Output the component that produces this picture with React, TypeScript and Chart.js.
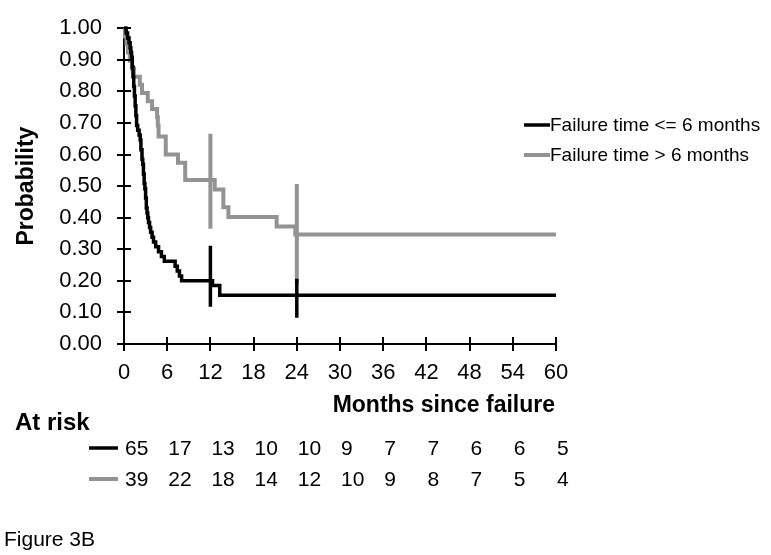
import React, { useEffect, useRef } from 'react';
import { Chart, registerables } from 'chart.js';

Chart.register(...registerables);

const FONT = '"Liberation Sans", Arial, Helvetica, sans-serif';

// Failure time <= 6 months (Kaplan-Meier steps)
const shortTimes = [0, 0.3, 0.5, 0.7, 0.85, 0.95, 1.05, 1.15, 1.25, 1.35, 1.45, 1.55, 1.65, 1.75, 1.9, 2.1, 2.25, 2.35, 2.5, 2.6, 2.7, 2.8, 2.9, 3.0, 3.1, 3.2, 3.3, 3.4, 3.55, 3.7, 3.9, 4.1, 4.4, 4.8, 5.2, 5.6, 7.1, 7.4, 7.7, 8.0, 12.3, 13.3, 60];
const shortSurv = [1.0, 0.985, 0.969, 0.954, 0.938, 0.923, 0.908, 0.877, 0.846, 0.815, 0.785, 0.754, 0.723, 0.692, 0.677, 0.662, 0.646, 0.615, 0.585, 0.569, 0.538, 0.508, 0.492, 0.462, 0.431, 0.415, 0.4, 0.385, 0.369, 0.354, 0.338, 0.323, 0.308, 0.292, 0.277, 0.262, 0.246, 0.231, 0.215, 0.2, 0.185, 0.154, 0.154];

// Failure time > 6 months
const longTimes = [0, 0.15, 0.35, 0.55, 0.8, 1.1, 1.4, 2.2, 2.5, 3.3, 3.9, 4.6, 4.7, 4.8, 5.8, 7.5, 8.5, 12.6, 13.8, 14.5, 21.2, 23.8, 60];
const longSurv = [1.0, 0.974, 0.949, 0.923, 0.897, 0.872, 0.846, 0.821, 0.795, 0.769, 0.744, 0.718, 0.692, 0.657, 0.6, 0.574, 0.519, 0.489, 0.433, 0.402, 0.372, 0.347, 0.347];

// censoring marks
const censorTimes = [12, 24];
const shortCensorTop = [0.311, 0.207];
const shortCensorBottom = [0.118, 0.083];
const longCensorTop = [0.666, 0.507];
const longCensorBottom = [0.365, 0.19];

const xTicks = [0, 6, 12, 18, 24, 30, 36, 42, 48, 54, 60];
const riskShort = [65, 17, 13, 10, 10, 9, 7, 7, 6, 6, 5];
const riskLong = [39, 22, 18, 14, 12, 10, 9, 8, 7, 5, 4];

const seriesLabels = ['Failure time <= 6 months', 'Failure time > 6 months'];
const seriesColors = ['#000000', '#939393'];

const pts = (xs: number[], ys: number[]) => xs.map((x, i) => ({ x, y: ys[i] }));

export default function App() {
  const ref = useRef<HTMLCanvasElement | null>(null);

  useEffect(() => {
    const canvas = ref.current;
    if (!canvas) return;

    const censorSets = (tops: number[], bots: number[], color: string, width: number) =>
      censorTimes.map((t, i) => ({
        label: '',
        data: [{ x: t, y: tops[i] }, { x: t, y: bots[i] }],
        borderColor: color,
        borderWidth: width,
        pointRadius: 0,
        showLine: true,
        clip: false as any,
      }));

    const overlay = {
      id: 'overlay',
      afterDraw(chart: any) {
        const ctx = chart.ctx as CanvasRenderingContext2D;
        const xs = chart.scales.x;
        const ys = chart.scales.y;
        const area = chart.chartArea;
        ctx.save();
        // inner tick halves (ticks cross the axes)
        ctx.strokeStyle = '#000';
        ctx.lineWidth = 2;
        ctx.beginPath();
        xTicks.forEach((t) => {
          const px = Math.round(xs.getPixelForValue(t));
          ctx.moveTo(px, area.bottom);
          ctx.lineTo(px, area.bottom - 7);
        });
        for (let v = 0; v <= 10; v++) {
          const py = Math.round(ys.getPixelForValue(v / 10));
          ctx.moveTo(area.left, py);
          ctx.lineTo(area.left + 7, py);
        }
        ctx.stroke();

        ctx.fillStyle = '#000';
        // y title
        ctx.save();
        ctx.translate(27, (area.top + area.bottom) / 2);
        ctx.rotate(-Math.PI / 2);
        ctx.font = `bold 23px ${FONT}`;
        ctx.textAlign = 'center';
        ctx.textBaseline = 'middle';
        ctx.fillText('Probability', 0, 0);
        ctx.restore();

        // x title
        ctx.font = `bold 23px ${FONT}`;
        ctx.textAlign = 'right';
        ctx.textBaseline = 'middle';
        ctx.fillText('Months since failure', area.right - 1, 406);

        // At risk
        ctx.font = `bold 24px ${FONT}`;
        ctx.textAlign = 'left';
        ctx.fillText('At risk', 15, 423);

        // risk rows
        const rows = [riskShort, riskLong];
        const rowY = [448, 479];
        rows.forEach((row, r) => {
          ctx.strokeStyle = seriesColors[r];
          ctx.lineWidth = r === 0 ? 3.5 : 4;
          ctx.beginPath();
          ctx.moveTo(89, rowY[r]);
          ctx.lineTo(118, rowY[r]);
          ctx.stroke();
          ctx.font = `21px ${FONT}`;
          ctx.fillStyle = '#000';
          ctx.textAlign = 'left';
          row.forEach((n, i) => {
            ctx.fillText(String(n), xs.getPixelForValue(xTicks[i]) + 1, rowY[r] + 1);
          });
        });

        // legend
        const legY = [125, 155];
        seriesLabels.forEach((lab, i) => {
          ctx.strokeStyle = seriesColors[i];
          ctx.lineWidth = i === 0 ? 3.5 : 4;
          ctx.beginPath();
          ctx.moveTo(524, legY[i]);
          ctx.lineTo(550, legY[i]);
          ctx.stroke();
          ctx.font = `19px ${FONT}`;
          ctx.fillStyle = '#000';
          ctx.textAlign = 'left';
          ctx.textBaseline = 'middle';
          ctx.fillText(lab, 550, legY[i] + 1);
        });

        // figure label
        ctx.font = `21px ${FONT}`;
        ctx.fillText('Figure 3B', 4, 540);
        ctx.restore();
      },
    };

    const chart = new Chart(canvas, {
      type: 'line',
      data: {
        datasets: [
          ...censorSets(shortCensorTop, shortCensorBottom, seriesColors[0], 3.5),
          {
            label: seriesLabels[0],
            data: pts(shortTimes, shortSurv),
            borderColor: seriesColors[0],
            borderWidth: 3.5,
            pointRadius: 0,
            stepped: 'before',
            clip: false as any,
          },
          {
            label: seriesLabels[1],
            data: pts(longTimes, longSurv),
            borderColor: seriesColors[1],
            borderWidth: 4,
            pointRadius: 0,
            stepped: 'before',
            clip: false as any,
          },
          ...censorSets(longCensorTop, longCensorBottom, seriesColors[1], 4),
        ] as any,
      },
      options: {
        responsive: false,
        animation: false,
        devicePixelRatio: 1,
        layout: { padding: { top: 15, right: 215, bottom: 161, left: 0 } },
        plugins: {
          legend: { display: false },
          tooltip: { enabled: false },
          title: { display: false },
        },
        scales: {
          x: {
            type: 'linear',
            min: 0,
            max: 60,
            afterFit: (s: any) => { s.height = 50; },
            afterBuildTicks: (s: any) => { s.ticks = xTicks.map((v) => ({ value: v })); },
            ticks: {
              color: '#000',
              font: { family: FONT, size: 22 },
              padding: 9,
              maxRotation: 0,
              autoSkip: false,
            },
            grid: { drawOnChartArea: false, drawTicks: true, tickLength: 7, color: '#000', lineWidth: 2 },
            border: { display: true, color: '#000', width: 2 },
          },
          y: {
            type: 'linear',
            min: 0,
            max: 1,
            afterFit: (s: any) => { s.width = 124; },
            ticks: {
              stepSize: 0.1,
              color: '#000',
              font: { family: FONT, size: 22 },
              padding: 15,
              callback: (v: any) => Number(v).toFixed(2),
            },
            grid: { drawOnChartArea: false, drawTicks: true, tickLength: 7, color: '#000', lineWidth: 2 },
            border: { display: true, color: '#000', width: 2 },
          },
        },
      },
      plugins: [overlay],
    } as any);

    return () => chart.destroy();
  }, []);

  return (
    <div style={{ position: 'fixed', left: 0, top: 0, width: 771, height: 555, background: '#fff' }}>
      <canvas ref={ref} width={771} height={555} style={{ display: 'block' }} />
    </div>
  );
}
